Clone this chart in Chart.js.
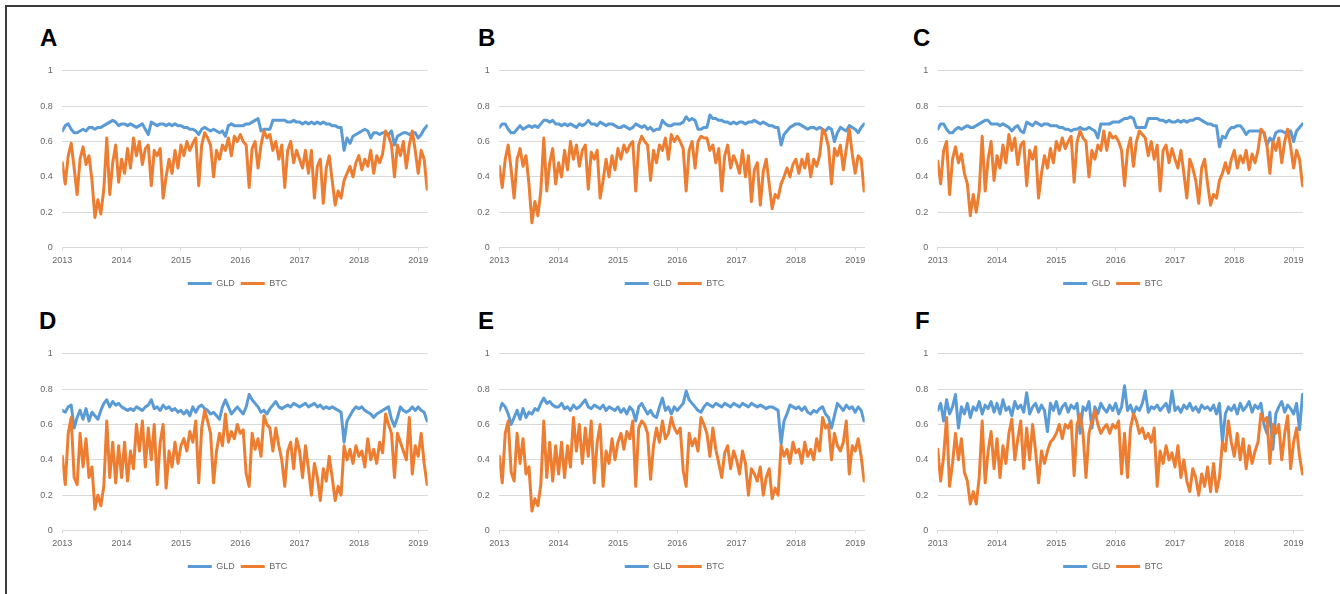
<!DOCTYPE html>
<html>
<head>
<meta charset="utf-8">
<script src="https://cdn.jsdelivr.net/npm/chart.js@4.4.0/dist/chart.umd.min.js"></script>
<style>
  body { margin: 0; background: #fff; width: 1340px; height: 594px; overflow: hidden; position: relative; font-family: "Liberation Sans", Arial, sans-serif; }
  .frame { position: absolute; left: 5px; top: 5px; width: 1400px; height: 700px; border-top: 2px solid #3c3c3c; border-left: 2px solid #3c3c3c; }
  .panel { position: absolute; width: 435px; height: 242px; }
  .tag { position: absolute; font-size: 24px; font-weight: bold; line-height: 1; color: #000; }
</style>
</head>
<body>
<div class="frame"></div>

<div class="tag" style="left:40px;top:26px">A</div>
<div class="tag" style="left:478px;top:26px">B</div>
<div class="tag" style="left:913px;top:26px">C</div>
<div class="tag" style="left:39px;top:309px">D</div>
<div class="tag" style="left:478px;top:309px">E</div>
<div class="tag" style="left:915px;top:309px">F</div>

<div class="panel" style="left:20px;top:56px"><canvas id="chartA"></canvas></div>
<div class="panel" style="left:457px;top:56px"><canvas id="chartB"></canvas></div>
<div class="panel" style="left:895px;top:56px"><canvas id="chartC"></canvas></div>
<div class="panel" style="left:20px;top:339px"><canvas id="chartD"></canvas></div>
<div class="panel" style="left:457px;top:339px"><canvas id="chartE"></canvas></div>
<div class="panel" style="left:895px;top:339px"><canvas id="chartF"></canvas></div>

<script>
// one sample every 0.05 year, Jan 2013 .. early 2019 (124 samples)
const sampleYears = [];
for (let i = 0; i < 124; i++) sampleYears.push(2013 + i * 0.05);
const yearTicks = [2013, 2014, 2015, 2016, 2017, 2018, 2019];
const seriesNames = ['GLD', 'BTC'];

// ---- panel A ----
const gldA = [
  .66,.69,.70,.67,.65,.65,.66,.67,.66,.68,.68,.67,.68,.68,.69,.70,.71,.72,.71,.69,
  .70,.70,.69,.70,.69,.68,.69,.70,.67,.64,.71,.70,.69,.70,.70,.69,.70,.69,.70,.69,
  .69,.68,.68,.67,.67,.66,.64,.67,.68,.67,.66,.67,.66,.65,.66,.63,.69,.70,.69,.69,
  .69,.69,.70,.70,.71,.72,.73,.66,.67,.67,.67,.72,.72,.72,.72,.72,.71,.71,.72,.71,
  .71,.70,.71,.70,.71,.70,.71,.70,.71,.70,.70,.69,.69,.68,.68,.55,.62,.59,.63,.64,
  .65,.66,.67,.66,.62,.65,.65,.64,.65,.65,.64,.66,.58,.63,.64,.65,.65,.64,.65,.65,
  .62,.64,.67,.69
];
const btcA = [
  .48,.36,.52,.59,.45,.30,.50,.57,.47,.52,.38,.17,.27,.19,.33,.62,.30,.48,.58,.37,
  .50,.42,.56,.45,.62,.52,.60,.47,.56,.58,.35,.55,.52,.56,.28,.40,.50,.42,.55,.45,
  .58,.52,.60,.55,.59,.62,.35,.58,.65,.62,.58,.40,.55,.50,.58,.55,.62,.52,.63,.60,
  .64,.60,.58,.34,.56,.60,.45,.58,.66,.62,.64,.55,.60,.50,.58,.34,.55,.60,.48,.55,
  .50,.45,.55,.42,.55,.28,.46,.50,.25,.45,.52,.38,.24,.32,.28,.38,.42,.46,.40,.48,
  .52,.44,.50,.46,.55,.42,.52,.48,.53,.66,.63,.58,.40,.58,.52,.60,.45,.58,.66,.55,
  .42,.55,.50,.33
];

// ---- panel B ----
const gldB = [
  .68,.70,.70,.67,.65,.65,.67,.69,.67,.68,.69,.68,.69,.68,.70,.72,.72,.71,.72,.70,
  .70,.69,.70,.69,.70,.69,.68,.70,.69,.70,.72,.70,.70,.69,.71,.70,.69,.70,.70,.69,
  .68,.68,.69,.68,.67,.68,.70,.69,.68,.69,.67,.68,.66,.67,.67,.72,.70,.69,.69,.70,
  .70,.70,.71,.74,.72,.73,.72,.67,.67,.68,.68,.75,.73,.73,.72,.72,.71,.71,.70,.71,
  .70,.71,.71,.70,.71,.71,.72,.71,.70,.71,.70,.69,.69,.68,.68,.58,.64,.66,.68,.69,
  .70,.70,.69,.68,.67,.68,.68,.67,.68,.67,.66,.68,.67,.60,.65,.68,.67,.66,.69,.68,
  .67,.65,.68,.70
];
const btcB = [
  .46,.34,.50,.58,.44,.28,.50,.56,.46,.52,.36,.14,.26,.18,.32,.62,.32,.48,.56,.36,
  .48,.40,.55,.44,.60,.50,.58,.46,.55,.58,.33,.54,.50,.55,.28,.38,.50,.40,.52,.44,
  .56,.50,.58,.54,.58,.60,.32,.58,.63,.60,.58,.38,.55,.48,.58,.55,.62,.50,.64,.60,
  .63,.60,.56,.32,.55,.60,.45,.60,.63,.62,.62,.55,.58,.48,.56,.32,.52,.58,.45,.52,
  .48,.42,.55,.40,.52,.26,.44,.48,.24,.43,.50,.36,.22,.30,.28,.36,.40,.45,.40,.47,
  .50,.42,.50,.45,.53,.40,.50,.46,.52,.67,.64,.57,.36,.56,.52,.58,.44,.56,.67,.53,
  .42,.52,.50,.32
];

// ---- panel C ----
const gldC = [
  .67,.70,.70,.67,.65,.65,.67,.68,.67,.68,.69,.68,.68,.69,.70,.71,.72,.72,.70,.70,
  .70,.69,.70,.69,.68,.66,.68,.69,.66,.65,.71,.70,.69,.71,.70,.69,.70,.70,.69,.69,
  .69,.68,.68,.67,.67,.66,.67,.67,.68,.67,.67,.68,.67,.66,.62,.70,.70,.70,.70,.71,
  .71,.71,.72,.73,.73,.74,.73,.68,.68,.68,.68,.73,.73,.73,.73,.72,.72,.71,.72,.71,
  .71,.72,.71,.72,.71,.72,.72,.73,.73,.72,.71,.70,.70,.69,.69,.57,.63,.62,.66,.68,
  .68,.69,.69,.67,.64,.66,.66,.66,.66,.66,.65,.58,.62,.60,.65,.66,.66,.65,.66,.66,
  .60,.66,.68,.70
];
const btcC = [
  .49,.36,.55,.60,.30,.50,.57,.48,.53,.42,.36,.18,.30,.20,.32,.63,.32,.50,.60,.38,
  .52,.45,.58,.48,.64,.55,.62,.47,.58,.60,.35,.55,.50,.57,.28,.42,.52,.45,.56,.48,
  .60,.55,.62,.56,.60,.63,.37,.60,.66,.62,.60,.40,.55,.50,.58,.55,.66,.55,.65,.62,
  .63,.60,.55,.35,.55,.62,.46,.60,.66,.64,.62,.52,.60,.50,.58,.32,.55,.58,.48,.56,
  .50,.45,.55,.42,.28,.50,.45,.38,.25,.45,.50,.36,.24,.30,.28,.38,.42,.48,.42,.50,
  .55,.45,.52,.48,.55,.44,.53,.48,.55,.67,.65,.58,.42,.60,.55,.62,.48,.60,.67,.57,
  .45,.55,.50,.35
];

// ---- panel D ----
const gldD = [
  .68,.67,.70,.71,.58,.64,.68,.63,.69,.62,.67,.65,.63,.68,.72,.74,.70,.73,.71,.72,
  .70,.69,.68,.69,.68,.70,.69,.68,.70,.71,.74,.69,.70,.68,.71,.69,.70,.68,.69,.67,
  .68,.66,.68,.65,.70,.67,.70,.71,.69,.68,.66,.67,.65,.63,.70,.74,.70,.66,.68,.70,
  .68,.66,.70,.77,.74,.72,.70,.67,.68,.66,.69,.71,.73,.70,.69,.70,.71,.70,.72,.71,
  .70,.71,.72,.70,.71,.72,.70,.71,.69,.70,.69,.70,.69,.68,.67,.50,.62,.65,.68,.70,
  .69,.70,.68,.67,.66,.64,.66,.67,.68,.69,.70,.63,.59,.64,.70,.68,.67,.68,.70,.68,
  .70,.68,.67,.62
];
const btcD = [
  .42,.26,.55,.64,.30,.26,.55,.36,.52,.30,.36,.12,.20,.14,.25,.62,.30,.50,.27,.48,
  .30,.50,.28,.45,.35,.60,.45,.62,.36,.58,.40,.60,.26,.50,.60,.24,.45,.36,.50,.38,
  .48,.52,.45,.56,.50,.62,.27,.58,.68,.62,.55,.27,.45,.55,.48,.66,.50,.56,.52,.60,
  .55,.57,.32,.25,.55,.46,.52,.42,.65,.60,.58,.45,.58,.48,.40,.25,.45,.50,.35,.52,
  .45,.30,.48,.35,.20,.38,.30,.17,.35,.28,.42,.30,.17,.25,.20,.48,.40,.46,.38,.48,
  .42,.45,.36,.52,.40,.46,.38,.50,.44,.66,.60,.55,.30,.55,.50,.45,.40,.64,.32,.48,
  .42,.55,.38,.26
];

// ---- panel E ----
const gldE = [
  .68,.72,.70,.66,.60,.64,.68,.63,.69,.64,.67,.66,.69,.68,.72,.75,.72,.73,.71,.70,
  .70,.72,.69,.70,.68,.71,.69,.70,.72,.74,.70,.69,.71,.70,.69,.71,.68,.70,.69,.68,
  .70,.67,.69,.66,.70,.68,.62,.70,.72,.69,.66,.68,.65,.64,.70,.75,.68,.70,.66,.70,
  .68,.70,.72,.79,.74,.72,.70,.68,.67,.70,.72,.71,.70,.72,.71,.70,.72,.71,.70,.72,
  .71,.70,.72,.71,.70,.72,.71,.70,.71,.70,.69,.70,.70,.69,.68,.49,.62,.66,.71,.70,
  .69,.70,.68,.70,.67,.66,.68,.67,.69,.70,.66,.64,.58,.65,.72,.70,.68,.71,.69,.70,
  .67,.70,.68,.62
];
const btcE = [
  .42,.27,.55,.62,.33,.28,.55,.38,.52,.32,.36,.11,.18,.14,.26,.62,.30,.50,.28,.48,
  .32,.50,.30,.48,.36,.64,.45,.60,.38,.58,.42,.62,.27,.50,.60,.25,.45,.38,.52,.40,
  .50,.55,.46,.56,.52,.62,.25,.58,.62,.60,.55,.29,.48,.58,.50,.62,.52,.55,.64,.58,
  .55,.58,.34,.25,.55,.48,.52,.45,.64,.60,.55,.42,.58,.46,.38,.30,.44,.48,.35,.45,
  .40,.32,.45,.38,.20,.35,.32,.28,.36,.20,.30,.35,.18,.24,.20,.48,.42,.46,.38,.50,
  .44,.46,.38,.50,.42,.46,.40,.52,.45,.64,.58,.60,.40,.55,.48,.45,.50,.62,.32,.48,
  .45,.52,.42,.28
];

// ---- panel F ----
const gldF = [
  .68,.72,.62,.74,.66,.70,.77,.58,.70,.66,.72,.64,.70,.68,.73,.66,.71,.69,.73,.67,
  .72,.66,.74,.68,.70,.65,.73,.69,.71,.67,.78,.66,.70,.72,.67,.71,.68,.56,.72,.68,
  .73,.66,.70,.72,.67,.71,.69,.72,.55,.70,.68,.73,.58,.70,.66,.72,.69,.67,.71,.68,
  .72,.66,.70,.82,.68,.71,.66,.70,.68,.72,.79,.67,.70,.69,.71,.68,.70,.72,.67,.79,
  .68,.70,.67,.71,.69,.72,.68,.70,.67,.71,.69,.70,.68,.71,.66,.72,.50,.66,.70,.68,
  .71,.66,.72,.68,.70,.73,.67,.71,.69,.72,.60,.55,.67,.46,.66,.70,.73,.67,.71,.69,
  .66,.72,.57,.77
];
const btcF = [
  .46,.28,.42,.64,.25,.38,.55,.40,.52,.33,.28,.15,.22,.15,.30,.62,.27,.45,.56,.35,
  .52,.30,.48,.38,.55,.63,.40,.52,.62,.35,.58,.40,.60,.45,.27,.45,.38,.45,.50,.52,
  .55,.60,.52,.60,.58,.62,.31,.60,.66,.55,.30,.55,.62,.68,.60,.55,.58,.60,.55,.60,
  .58,.62,.32,.55,.30,.58,.66,.62,.55,.58,.52,.55,.50,.58,.25,.45,.38,.48,.40,.44,
  .36,.48,.30,.40,.28,.22,.35,.30,.20,.32,.25,.36,.22,.38,.22,.30,.50,.45,.62,.50,
  .42,.55,.40,.52,.35,.48,.38,.45,.50,.66,.62,.64,.38,.60,.55,.60,.40,.55,.65,.35,
  .50,.58,.42,.32
];

const GLD_COLOR = '#5B9BD5';
const BTC_COLOR = '#ED7D31';
const GRID = '#d9d9d9';
const TICK_TEXT = '#666666';

Chart.defaults.font.family = "'Liberation Sans', Arial, sans-serif";

const panels = [
  { id: 'chartA', left: 20,  top: 56,  plotLeft: 62.3,  plotTop: 66.7, gld: gldA, btc: btcA },
  { id: 'chartB', left: 457, top: 56,  plotLeft: 499.3, plotTop: 66.7, gld: gldB, btc: btcB },
  { id: 'chartC', left: 895, top: 56,  plotLeft: 937.7, plotTop: 66.7, gld: gldC, btc: btcC },
  { id: 'chartD', left: 20,  top: 339, plotLeft: 62.3,  plotTop: 350,  gld: gldD, btc: btcD },
  { id: 'chartE', left: 457, top: 339, plotLeft: 499.3, plotTop: 350,  gld: gldE, btc: btcE },
  { id: 'chartF', left: 895, top: 339, plotLeft: 937.7, plotTop: 350,  gld: gldF, btc: btcF }
];

const yAxisWidth = 24;
const rightSpacer = 9;
const plotWidth = 365.4;
const xAxisHeight = 25.5;

function toPoints(values) {
  return values.map((v, i) => ({ x: sampleYears[i], y: v }));
}

panels.forEach(p => {
  const padLeft = p.plotLeft - p.left - yAxisWidth;
  const padRight = p.left + 435 - rightSpacer - (p.plotLeft + plotWidth);
  const padTop = p.plotTop - p.top;

  new Chart(document.getElementById(p.id), {
    type: 'line',
    data: {
      datasets: [
        {
          label: seriesNames[0],
          data: toPoints(p.gld),
          borderColor: GLD_COLOR,
          backgroundColor: GLD_COLOR,
          borderWidth: 3,
          pointRadius: 0,
          tension: 0,
          borderJoinStyle: 'round',
          borderCapStyle: 'round',
          order: 1
        },
        {
          label: seriesNames[1],
          data: toPoints(p.btc),
          borderColor: BTC_COLOR,
          backgroundColor: BTC_COLOR,
          borderWidth: 3,
          pointRadius: 0,
          tension: 0,
          borderJoinStyle: 'round',
          borderCapStyle: 'round',
          order: 0
        }
      ]
    },
    options: {
      responsive: true,
      maintainAspectRatio: false,
      animation: false,
      layout: { padding: { left: padLeft, right: padRight, top: padTop, bottom: 0 } },
      plugins: {
        tooltip: { enabled: false },
        legend: {
          position: 'bottom',
          labels: {
            usePointStyle: true,
            pointStyle: 'line',
            pointStyleWidth: 24,
            padding: 6,
            color: TICK_TEXT,
            font: { size: 9 },
            sort: (a, b) => a.datasetIndex - b.datasetIndex
          }
        }
      },
      scales: {
        x: {
          type: 'linear',
          min: 2013,
          max: 2019.16,
          afterBuildTicks: s => { s.ticks = yearTicks.map(v => ({ value: v })); },
          afterFit: s => { s.height = xAxisHeight; },
          grid: { drawOnChartArea: false, drawTicks: true, tickLength: 3, color: GRID },
          border: { display: true, color: GRID },
          ticks: {
            color: TICK_TEXT,
            font: { size: 9 },
            padding: 5,
            maxRotation: 0,
            autoSkip: false,
            callback: v => String(v)
          }
        },
        y: {
          min: 0,
          max: 1,
          afterFit: s => { s.width = yAxisWidth; },
          grid: { color: GRID, drawTicks: false },
          border: { display: false },
          ticks: {
            stepSize: 0.2,
            color: TICK_TEXT,
            font: { size: 9 },
            padding: 9.5,
            callback: v => String(Math.round(v * 10) / 10)
          }
        },
        yR: {
          position: 'right',
          min: 0,
          max: 1,
          afterFit: s => { s.width = rightSpacer; },
          grid: { display: false, drawTicks: false },
          border: { display: false },
          ticks: { display: false }
        }
      }
    }
  });
});
</script>
</body>
</html>
